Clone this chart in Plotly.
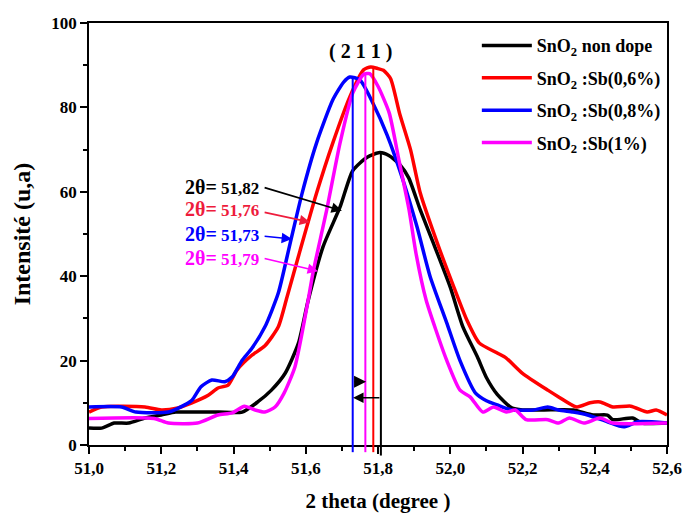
import plotly.graph_objects as go

# ---------------- data ----------------
names = ["SnO<sub>2</sub> non dope", "SnO<sub>2</sub> :Sb(0,6%)",
         "SnO<sub>2</sub> :Sb(0,8%)", "SnO<sub>2</sub> :Sb(1%)"]
colors = ["#000000", "#ff0000", "#0000ff", "#ff00ff"]

x_black = [51.00, 51.035, 51.07, 51.11, 51.155, 51.20, 51.24, 51.30, 51.36, 51.424,
           51.467, 51.505, 51.543, 51.58, 51.606, 51.648, 51.695, 51.73, 51.77, 51.805,
           51.83, 51.86, 51.885, 51.917, 51.953, 52.00, 52.035, 52.075, 52.10, 52.13,
           52.17, 52.20, 52.26, 52.34, 52.395, 52.435, 52.45, 52.505, 52.53, 52.60]
y_black = [4, 4, 5.2, 5.2, 6.4, 7.1, 7.8, 7.8, 7.8, 7.8,
           10.2, 13, 17, 24.2, 34, 47, 56.4, 65, 68.2, 69.3,
           68.6, 66.5, 63.3, 55.7, 47.9, 37.4, 28, 20.9, 16, 12,
           8.8, 8.3, 8.3, 8.3, 7.1, 7.1, 6, 6.4, 5.2, 5.2]

x_red = [51.00, 51.035, 51.155, 51.20, 51.246, 51.285, 51.33, 51.357, 51.385, 51.41,
         51.45, 51.487, 51.524, 51.548, 51.584, 51.63, 51.675, 51.722, 51.76, 51.78,
         51.80, 51.815, 51.835, 51.86, 51.89, 51.917, 51.964, 52.01, 52.046, 52.08,
         52.13, 52.155, 52.20, 52.27, 52.30, 52.35, 52.387, 52.415, 52.45, 52.50,
         52.545, 52.57, 52.60]
y_red = [7.8, 9, 9, 8.3, 8.8, 10, 11.8, 13.5, 14.2, 17.8,
         21.2, 23.5, 28, 35, 46, 59.7, 71.6, 82.5, 88.9, 89.6,
         89.2, 88.8, 86.8, 78.5, 70, 59.7, 47.9, 37.4, 29.6, 24.2,
         21.8, 20.6, 17, 13, 11.4, 9, 10, 10.2, 9, 9.2,
         7.8, 8.3, 7.1]

x_blue = [51.00, 51.09, 51.13, 51.22, 51.265, 51.285, 51.31, 51.34, 51.376, 51.396,
          51.424, 51.45, 51.487, 51.524, 51.556, 51.59, 51.63, 51.675, 51.705, 51.722,
          51.75, 51.786, 51.825, 51.869, 51.908, 51.944, 51.99, 52.027, 52.07, 52.10,
          52.13, 52.17, 52.23, 52.27, 52.30, 52.34, 52.38, 52.435, 52.48, 52.52,
          52.60]
y_blue = [9, 9, 7.8, 7.8, 9.5, 10.6, 13.8, 15.4, 15, 16.1,
          20.1, 22.8, 28, 36, 47.5, 59.7, 71.6, 81.8, 86, 87.2,
          86.5, 81, 73.5, 62.8, 51.7, 40, 29, 20, 12.3, 10.5,
          9.5, 8.3, 8.3, 9, 8.3, 7.8, 7.1, 5.5, 4.3, 5.5,
          5.2]

x_mag = [51.00, 51.18, 51.22, 51.30, 51.357, 51.396, 51.43, 51.46, 51.487, 51.515,
         51.54, 51.57, 51.606, 51.62, 51.658, 51.695, 51.73, 51.76, 51.777, 51.80,
         51.831, 51.858, 51.886, 51.905, 51.933, 51.96, 51.99, 52.027, 52.055, 52.09,
         52.12, 52.155, 52.18, 52.21, 52.27, 52.30, 52.33, 52.37, 52.415, 52.45,
         52.60]
y_mag = [6.3, 6.3, 5.2, 5.2, 7.1, 7.6, 9.2, 8.3, 7.8, 9,
         12.3, 18.5, 34, 40.8, 55.7, 71.6, 83.4, 87.8, 88, 85,
         78.7, 67.5, 55.7, 45.5, 34.4, 27.3, 20.1, 13, 11.4, 7.8,
         9, 7.8, 8.3, 6, 6, 5.2, 6.4, 5.2, 6.4, 5.2,
         5.2]

# peak marker lines (position, height)
peak_x = [51.808, 51.787, 51.73, 51.765]
peak_y = [69.4, 89.5, 87.2, 88.0]

# 2-theta labels
label_vals = ["51,82", "51,76", "51,73", "51,79"]
label_colors = ["#000000", "#ee1c3c", "#0000ff", "#ff00ff"]
label_y = [61.1, 55.9, 50.0, 44.3]
arrow_tail_y = [61.1, 55.2, 49.5, 44.3]
arrow_head_x = [51.700, 51.612, 51.562, 51.634]
arrow_head_y = [55.5, 52.8, 48.8, 41.2]
label_x = 51.476
tail_x = 51.482

xs = [x_black, x_red, x_blue, x_mag]
ys = [y_black, y_red, y_blue, y_mag]

FONT = "Liberation Serif"

fig = go.Figure()
for i in range(4):
    fig.add_trace(go.Scatter(
        x=xs[i], y=ys[i], mode="lines", name="<b>" + names[i] + "</b>",
        line=dict(color=colors[i], width=3.5, shape="spline", smoothing=0.6),
        legendgroup=str(i)))

# vertical peak lines
for i in range(4):
    fig.add_trace(go.Scatter(
        x=[peak_x[i], peak_x[i]], y=[0, peak_y[i]], mode="lines",
        line=dict(color=colors[i], width=2), showlegend=False, hoverinfo="skip"))
    fig.add_shape(type="line", xref="x", yref="paper",
                  x0=peak_x[i], x1=peak_x[i], y0=0,
                  y1=-0.025 if i == 0 else -0.017,
                  line=dict(color=colors[i], width=2))

annotations = []
for i in range(4):
    annotations.append(dict(
        x=label_x, y=label_y[i], xref="x", yref="y", showarrow=False,
        xanchor="right", yanchor="middle",
        text="<b><span style='font-size:20px'>2θ=</span> " + label_vals[i] + "</b>",
        font=dict(family=FONT, size=17, color=label_colors[i])))
    annotations.append(dict(
        x=arrow_head_x[i], y=arrow_head_y[i], ax=tail_x, ay=arrow_tail_y[i],
        xref="x", yref="y", axref="x", ayref="y", text="", showarrow=True,
        arrowhead=2, arrowsize=1.3, arrowwidth=1.6, arrowcolor=label_colors[i]))

# small shift arrows near the bottom
annotations.append(dict(x=51.767, y=15.0, ax=51.731, ay=15.0, xref="x", yref="y",
                        axref="x", ayref="y", text="", showarrow=True,
                        arrowhead=2, arrowsize=1.6, arrowwidth=1.5, arrowcolor="black"))
annotations.append(dict(x=51.731, y=11.2, ax=51.808, ay=11.2, xref="x", yref="y",
                        axref="x", ayref="y", text="", showarrow=True,
                        arrowhead=2, arrowsize=1.4, arrowwidth=1.5, arrowcolor="black"))

annotations.append(dict(x=51.752, y=93.3, xref="x", yref="y", showarrow=False,
                        text="<b>( 2 1 1 )</b>",
                        font=dict(family=FONT, size=20, color="black")))

fig.update_layout(
    width=682, height=513,
    margin=dict(l=89, r=15, t=23, b=68),
    plot_bgcolor="white", paper_bgcolor="white",
    separators=", ",
    font=dict(family=FONT, color="black"),
    annotations=annotations,
    legend=dict(x=0.671, y=0.99, xanchor="left", yanchor="top",
                bgcolor="rgba(0,0,0,0)", font=dict(family=FONT, size=18, color="black"),
                traceorder="grouped", tracegroupgap=6, itemwidth=50),
    xaxis=dict(range=[51, 52.6], tick0=51, dtick=0.2, tickformat=".1f",
               automargin=False,
               ticks="outside", ticklen=7, tickwidth=1.5, tickcolor="black",
               showline=True, linecolor="black", linewidth=1.5, mirror=True,
               showgrid=False, zeroline=False,
               minor=dict(dtick=0.1, ticks="outside", ticklen=4, tickwidth=1.5,
                          tickcolor="black", showgrid=False),
               tickfont=dict(family=FONT, size=17, color="black", weight="bold"),
               title=dict(text="<b>2 theta (degree )</b>", standoff=16,
                          font=dict(family=FONT, size=21, color="black"))),
    yaxis=dict(range=[0, 100], dtick=20, automargin=False,
               ticks="outside", ticklen=7, tickwidth=1.5, tickcolor="black",
               showline=True, linecolor="black", linewidth=1.5, mirror=True,
               showgrid=False, zeroline=False,
               minor=dict(dtick=10, ticks="outside", ticklen=4, tickwidth=1.5,
                          tickcolor="black", showgrid=False),
               tickfont=dict(family=FONT, size=17, color="black", weight="bold"),
               title=dict(text="<b>Intensité (u,a)</b>", standoff=14,
                          font=dict(family=FONT, size=24, color="black"))),
)

fig.write_html("out.html")
